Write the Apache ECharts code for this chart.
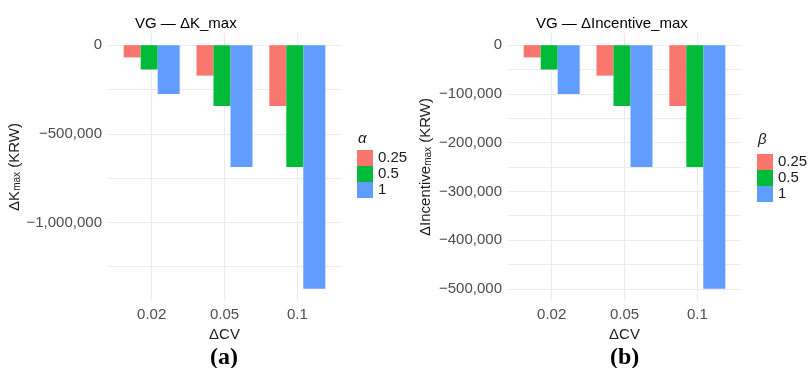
<!DOCTYPE html>
<html lang="en">

<head>
    <meta charset="UTF-8">
    <title>VG</title>
    <script src="https://cdn.jsdelivr.net/npm/echarts/dist/echarts.min.js"></script>
    <style>
        body { margin: 0; background: #fff; }
    </style>
</head>

<body>
    <div id="chart" style="width: 808px; height: 368px;"></div>
    <script>
        // data
        const cvLabels = ['0.02', '0.05', '0.1'];
        const levelNames = ['0.25', '0.5', '1'];
        // panel (a): ΔK_max by alpha
        const kAlpha025 = [-68750, -171875, -343750];
        const kAlpha05 = [-137500, -343750, -687500];
        const kAlpha1 = [-275000, -687500, -1375000];
        // panel (b): ΔIncentive_max by beta
        const incBeta025 = [-25000, -62500, -125000];
        const incBeta05 = [-50000, -125000, -250000];
        const incBeta1 = [-100000, -250000, -500000];
        // tick labels
        const kTicks = [0, -500000, -1000000];
        const kMinor = [-250000, -750000, -1250000];
        const incTicks = [0, -100000, -200000, -300000, -400000, -500000];
        const incMinor = [-50000, -150000, -250000, -350000, -450000];

        const colors = ['#F8766D', '#00BA38', '#619CFF'];
        const widths = [17, 17, 22];
        const font = "'Liberation Sans', Arial, sans-serif";

        function fmt(v) {
            const s = Math.abs(v).toLocaleString('en-US');
            return v < 0 ? '\u2212' + s : s;
        }

        function xAxis(gridIndex) {
            return {
                type: 'value', gridIndex, min: 0.4, max: 3.6,
                name: 'ΔCV', nameLocation: 'middle', nameGap: 26,
                nameTextStyle: { fontFamily: font, fontSize: 15, color: '#1a1a1a' },
                axisLine: { show: false },
                axisTick: { show: false, customValues: [1, 2, 3] },
                axisLabel: {
                    customValues: [1, 2, 3], margin: 6,
                    fontFamily: font, fontSize: 15, color: '#4d4d4d',
                    formatter: v => cvLabels[Math.round(v) - 1]
                },
                splitLine: { show: true, lineStyle: { color: '#ebebeb', width: 1 } }
            };
        }

        function yAxis(gridIndex, min, max, ticks, minor, name, gap) {
            return {
                type: 'value', gridIndex, min, max,
                name, nameLocation: 'middle', nameGap: gap, nameRotate: 90,
                nameTextStyle: {
                    fontFamily: font, fontSize: 15, color: '#1a1a1a',
                    rich: { sub: { fontFamily: font, fontSize: 10, verticalAlign: 'bottom', lineHeight: 10, color: '#1a1a1a' } }
                },
                axisLine: { show: false },
                axisTick: { show: false, customValues: ticks.concat(minor) },
                axisLabel: {
                    customValues: ticks, margin: 6,
                    fontFamily: font, fontSize: 15, color: '#4d4d4d',
                    formatter: fmt
                },
                splitLine: { show: true, lineStyle: { color: '#ebebeb', width: 1 } }
            };
        }

        function bars(gridIndex, seriesData) {
            return seriesData.map((vals, i) => ({
                type: 'bar', name: levelNames[i],
                xAxisIndex: gridIndex, yAxisIndex: gridIndex,
                barWidth: widths[i], barGap: 0,
                itemStyle: { color: colors[i] },
                data: vals.map((v, j) => [j + 1, v])
            }));
        }

        function legend(left, top) {
            return {
                orient: 'vertical', left, top, padding: 0,
                itemWidth: 16, itemHeight: 16, itemGap: 0, icon: 'rect',
                data: levelNames,
                textStyle: { fontFamily: font, fontSize: 15, lineHeight: 16, color: '#1a1a1a' }
            };
        }

        const chart = echarts.init(document.getElementById('chart'));
        chart.setOption({
            animation: false,
            color: colors,
            title: [
                { text: 'VG — ΔK_max', left: 130, top: 11, textStyle: { fontFamily: font, fontSize: 15, fontWeight: 'normal', color: '#000' } },
                { text: 'VG — ΔIncentive_max', left: 531, top: 11, textStyle: { fontFamily: font, fontSize: 15, fontWeight: 'normal', color: '#000' } }
            ],
            grid: [
                { left: 108, top: 33, width: 233, height: 268 },
                { left: 508, top: 33, width: 233, height: 268 }
            ],
            xAxis: [xAxis(0), xAxis(1)],
            yAxis: [
                yAxis(0, -1443750, 68750, kTicks, kMinor, 'ΔK{sub|max} (KRW)', 82),
                yAxis(1, -525000, 25000, incTicks, incMinor, 'ΔIncentive{sub|max} (KRW)', 75)
            ],
            legend: [legend(357, 150), legend(757, 154)],
            series: bars(0, [kAlpha025, kAlpha05, kAlpha1]).concat(bars(1, [incBeta025, incBeta05, incBeta1])),
            graphic: [
                { type: 'text', left: 358, top: 131, style: { text: 'α', font: 'italic 15px ' + font, fill: '#1a1a1a' } },
                { type: 'text', left: 758, top: 132, style: { text: 'β', font: 'italic 15px ' + font, fill: '#1a1a1a' } },
                { type: 'text', left: 210, top: 346, style: { text: '(a)', font: "bold 24px 'Liberation Serif', 'Times New Roman', serif", fill: '#000' } },
                { type: 'text', left: 610, top: 346, style: { text: '(b)', font: "bold 24px 'Liberation Serif', 'Times New Roman', serif", fill: '#000' } }
            ]
        });
    </script>
</body>

</html>
